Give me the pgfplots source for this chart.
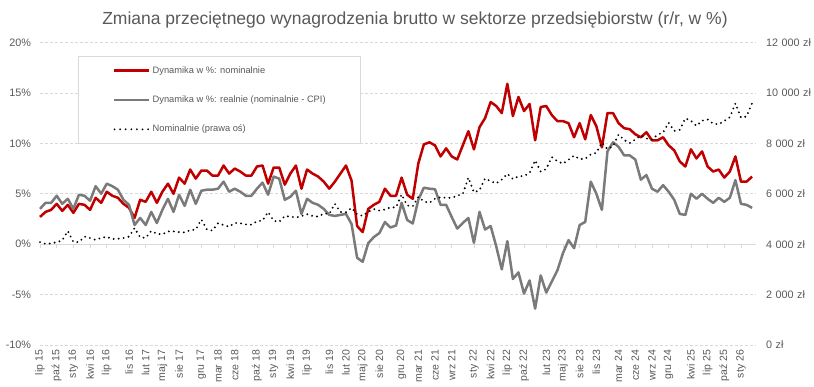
\documentclass[border=0pt]{standalone}
\usepackage{fontspec}
\setmainfont{Liberation Sans}
\usepackage{pgfplots}
\usepackage{pgfplotstable}
\pgfplotsset{compat=1.18}
\definecolor{nomred}{HTML}{C00000}
\definecolor{realgray}{HTML}{7A7A7A}
\definecolor{textgray}{HTML}{595959}
\definecolor{gridgray}{HTML}{D9D9D9}
\pgfplotstableread{
i nom real wage
0 2.7 3.5 4080
1 3.2 4.1 4010
2 3.4 4.1 4030
3 4.0 4.8 4080
4 3.3 4.0 4150
5 3.9 4.5 4520
6 3.1 3.5 4090
7 4.0 4.9 4080
8 3.9 4.8 4300
9 3.4 4.3 4240
10 4.6 5.75 4170
11 4.1 5.0 4250
12 5.2 6.0 4292
13 4.8 5.75 4202
14 4.6 5.4 4215
15 4.0 4.4 4243
16 3.6 3.9 4299
17 2.6 1.9 4638
18 4.4 2.6 4270
19 4.2 1.9 4251
20 5.2 3.2 4524
21 4.1 2.1 4414
22 5.2 3.4 4387
23 6.0 4.5 4505
24 5.0 3.2 4507
25 6.6 4.9 4479
26 6.0 3.8 4468
27 7.4 5.4 4557
28 6.5 4.0 4578
29 7.3 5.3 4977
30 7.3 5.4 4582
31 6.8 5.4 4540
32 6.8 5.5 4832
33 7.8 6.2 4758
34 7.0 5.2 4694
35 7.5 5.5 4843
36 7.2 5.2 4831
37 6.8 4.8 4784
38 6.8 4.8 4772
39 7.7 5.5 4908
40 7.8 6.1 4935
41 6.0 4.9 5275
42 7.6 6.7 4930
43 7.6 6.5 4885
44 5.9 4.4 5117
45 7.0 4.7 5091
46 7.8 5.3 5060
47 5.5 3.0 5109
48 7.4 4.5 5189
49 7.0 4.1 5119
50 6.7 3.9 5092
51 6.2 3.5 5212
52 5.5 2.9 5206
53 6.2 2.8 5602
54 7.0 2.9 5275
55 7.8 3.0 5266
56 6.3 2.0 5439
57 1.8 -1.35 5183
58 1.2 -1.75 5121
59 3.5 0.1 5288
60 3.9 0.7 5391
61 4.2 1.1 5334
62 5.5 2.2 5372
63 4.8 1.65 5462
64 4.8 1.85 5456
65 6.6 4.1 5972
66 4.9 2.4 5534
67 4.5 2.05 5503
68 8.0 4.4 5874
69 9.9 5.6 5696
70 10.1 5.5 5638
71 9.8 5.45 5806
72 8.7 3.9 5860
73 9.5 3.9 5841
74 8.7 2.7 5839
75 8.4 1.55 5921
76 9.8 2.1 5991
77 11.2 2.6 6641
78 9.4 0.13 6054
79 11.6 3.2 6141
80 12.5 1.45 6608
81 14.1 1.8 6499
82 13.7 -0.2 6410
83 13.0 -2.5 6561
84 15.9 0.3 6792
85 12.7 -3.45 6583
86 14.6 -2.8 6692
87 13.2 -4.9 6703
88 13.9 -3.6 6824
89 10.3 -6.4 7325
90 13.6 -3.1 6877
91 13.7 -4.8 6982
92 12.8 -3.7 7454
93 12.2 -2.6 7292
94 12.2 -0.9 7192
95 12.0 0.4 7348
96 10.6 -0.4 7512
97 12.0 1.9 7373
98 10.4 2.2 7388
99 12.8 6.2 7561
100 11.7 5.0 7622
101 9.6 3.4 8028
102 13.0 9.2 7771
103 13.0 10.1 7890
104 12.0 9.65 8348
105 11.5 8.8 8131
106 11.4 8.8 8012
107 10.9 8.4 8149
108 10.6 6.4 8308
109 11.1 6.85 8191
110 10.3 5.5 8149
111 10.3 5.2 8340
112 10.6 5.85 8430
113 9.8 5.2 8815
114 9.3 4.4 8494
115 8.2 3.0 8537
116 7.7 2.9 8991
117 9.4 5.0 8895
118 8.5 4.5 8693
119 9.2 5.0 8899
120 7.7 4.5 8948
121 7.2 4.1 8781
122 7.4 4.6 8752
123 6.6 4.2 8890
124 7.2 4.6 9037
125 8.7 6.35 9582
126 6.2 4.0 9021
127 6.2 3.9 9066
128 6.7 3.6 9593
}\data

\begin{document}
\begin{tikzpicture}[x=1pt,y=1pt]
\path[use as bounding box] (0,0) rectangle (814,387);
\node[text=textgray, font=\fontsize{17.5}{20}\selectfont, inner sep=0pt] at (415,367) {Zmiana przeciętnego wynagrodzenia brutto w sektorze przedsiębiorstw (r/r, w \%)};
\begin{axis}[
  at={(40pt,42pt)}, anchor=south west,
  width=716pt, height=302.5pt, scale only axis,
  xmin=0, xmax=128.7, ymin=-10, ymax=20,
  axis line style={draw=none},
  major tick length=0pt,
  ytick={-10,-5,0,5,10,15,20},
  yticklabels={-10\%,-5\%,0\%,5\%,10\%,15\%,20\%},
  yticklabel style={anchor=east, inner sep=0pt, outer sep=0pt, xshift=-9pt, text=textgray, font=\fontsize{10.8}{12}\selectfont},
  ymajorgrids,
  major grid style={draw=gridgray, line width=0.7pt, dash pattern=on 3pt off 2pt},
  xtick={0,3,6,9,12,16,19,22,25,29,32,35,39,42,45,48,52,55,58,61,65,68,71,74,78,81,84,87,91,94,97,100,104,107,110,113,117,120,123,126},
  xticklabels={lip 15,paź 15,sty 16,kwi 16,lip 16,lis 16,lut 17,maj 17,sie 17,gru 17,mar 18,cze 18,paź 18,sty 19,kwi 19,lip 19,lis 19,lut 20,maj 20,sie 20,gru 20,mar 21,cze 21,wrz 21,sty 22,kwi 22,lip 22,paź 22,lut 23,maj 23,sie 23,lis 23,mar 24,cze 24,wrz 24,gru 24,kwi 25,lip 25,paź 25,sty 26},
  xticklabel style={rotate=90, anchor=east, inner sep=0pt, outer sep=0pt, text=textgray, font=\fontsize{10.5}{12}\selectfont},
  xticklabel shift=5pt,
  clip=false,
]
\addplot[draw=gridgray, line width=0.8pt, no markers] coordinates {(0,0) (128.7,0)};
\addplot[ycomb, draw=gridgray, line width=0.8pt, no markers] coordinates {
(0,-0.4) (3,-0.4) (6,-0.4) (9,-0.4) (12,-0.4) (16,-0.4) (19,-0.4) (22,-0.4) (25,-0.4) (29,-0.4)
(32,-0.4) (35,-0.4) (39,-0.4) (42,-0.4) (45,-0.4) (48,-0.4) (52,-0.4) (55,-0.4) (58,-0.4) (61,-0.4)
(65,-0.4) (68,-0.4) (71,-0.4) (74,-0.4) (78,-0.4) (81,-0.4) (84,-0.4) (87,-0.4) (91,-0.4) (94,-0.4)
(97,-0.4) (100,-0.4) (104,-0.4) (107,-0.4) (110,-0.4) (113,-0.4) (117,-0.4) (120,-0.4) (123,-0.4) (126,-0.4)};
\addplot[draw=nomred, line width=2.5pt, line join=round, no markers] table[x=i, y=nom] {\data};
\addplot[draw=realgray, line width=2.5pt, line join=round, no markers] table[x=i, y=real] {\data};
\end{axis}
\begin{axis}[
  at={(40pt,42pt)}, anchor=south west,
  width=716pt, height=302.5pt, scale only axis,
  xmin=0, xmax=128.7, ymin=0, ymax=12000,
  axis line style={draw=none},
  axis y line*=right, axis x line=none,
  major tick length=0pt,
  scaled y ticks=false,
  ytick={0,2000,4000,6000,8000,10000,12000},
  yticklabels={0 zł,2 000 zł,4 000 zł,6 000 zł,8 000 zł,10 000 zł,12 000 zł},
  yticklabel style={anchor=west, text width=46pt, align=left, inner sep=0pt, outer sep=0pt, xshift=10pt, text=textgray, font=\fontsize{10.8}{12}\selectfont},
  clip=false,
]
\addplot[draw=black, line width=2.1pt, line cap=round, dash pattern=on 0pt off 5pt, no markers] table[x=i, y=wage] {\data};
\end{axis}
% legend
\draw[gridgray, line width=0.8pt, fill=white] (78,244) rectangle (360,331);
\draw[nomred, line width=2.6pt] (114,316.3) -- (149,316.3);
\node[anchor=west, inner sep=0pt, text=textgray, font=\fontsize{9.3}{11}\selectfont] at (152.5,316.3) {Dynamika w \%: nominalnie};
\draw[realgray, line width=2.6pt] (114,287) -- (149,287);
\node[anchor=west, inner sep=0pt, text=textgray, font=\fontsize{9.3}{11}\selectfont] at (152.5,287) {Dynamika w \%: realnie (nominalnie - CPI)};
\draw[black, line width=2pt, line cap=round, dash pattern=on 0pt off 5.6pt] (114.5,257.7) -- (149,257.7);
\node[anchor=west, inner sep=0pt, text=textgray, font=\fontsize{9.3}{11}\selectfont] at (152.5,257.7) {Nominalnie (prawa oś)};
\end{tikzpicture}
\end{document}
